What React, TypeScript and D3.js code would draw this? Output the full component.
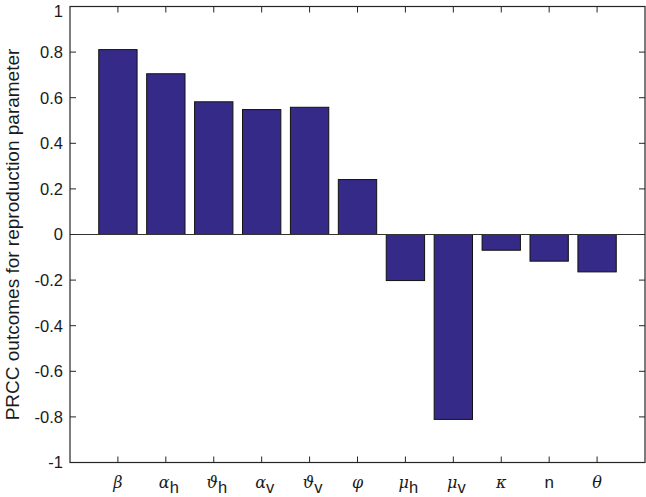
import React from "react";
import * as d3 from "d3";

const symbols = ["β", "α", "ϑ", "α", "ϑ", "φ", "μ", "μ", "κ", "n", "θ"];
const subscripts = ["", "h", "h", "v", "v", "", "h", "v", "", "", ""];
const values = [0.811, 0.705, 0.582, 0.548, 0.558, 0.241, -0.202, -0.811, -0.069, -0.117, -0.164];
const yTicks = [1, 0.8, 0.6, 0.4, 0.2, 0, -0.2, -0.4, -0.6, -0.8, -1];

const W = 646, H = 497;
const left = 70, right = 645, top = 6.5, bottom = 462.5;
const fill = "#352a87";

export default function App() {
  const x = d3.scaleLinear().domain([0, values.length + 1]).range([left, right]);
  const y = d3.scaleLinear().domain([-1, 1]).range([bottom, top]);
  const bw = (x(1) - x(0)) * 0.8;
  const tick = 6;
  const font = "'Liberation Sans', Arial, sans-serif";
  return (
    <svg width={W} height={H} style={{ position: "absolute", left: 0, top: 0, background: "#fff" }}>
      {values.map((v, i) => {
        const cx = x(i + 1);
        const y0 = y(0), y1 = y(v);
        return (
          <rect key={i} x={cx - bw / 2} y={Math.min(y0, y1)} width={bw} height={Math.abs(y1 - y0)}
            fill={fill} stroke="#111" strokeWidth={1} />
        );
      })}
      <line x1={left} x2={right} y1={y(0)} y2={y(0)} stroke="#333" strokeWidth={1} />
      <rect x={left} y={top} width={right - left} height={bottom - top} fill="none" stroke="#262626" strokeWidth={1.2} />
      {yTicks.map((t) => (
        <g key={t}>
          <line x1={left} x2={left + tick} y1={y(t)} y2={y(t)} stroke="#262626" />
          <line x1={right} x2={right - tick} y1={y(t)} y2={y(t)} stroke="#262626" />
          <text x={left - 7} y={Math.max(y(t), 11.5)} dy="0.36em" textAnchor="end" fontFamily={font} fontSize={16.5} fill="#1a1a1a">
            {String(t)}
          </text>
        </g>
      ))}
      {symbols.map((s, i) => {
        const cx = x(i + 1);
        const isN = s === "n";
        return (
          <g key={i}>
            <line x1={cx} x2={cx} y1={bottom} y2={bottom - tick} stroke="#262626" />
            <line x1={cx} x2={cx} y1={top} y2={top + tick} stroke="#262626" />
            <text x={cx + (subscripts[i] ? 3 : 0)} y={488} textAnchor="middle" fill="#1a1a1a">
              <tspan fontFamily={isN ? font : "'DejaVu Serif', serif"} fontStyle={isN ? "normal" : "italic"} fontSize={isN ? 17 : 16}>{s}</tspan>
              {subscripts[i] ? (
                <tspan fontFamily={font} fontSize={16.5} dy={5}>{subscripts[i]}</tspan>
              ) : null}
            </text>
          </g>
        );
      })}
      <text transform={`translate(19,${(top + bottom) / 2}) rotate(-90)`} textAnchor="middle" fontFamily={font} fontSize={19} fill="#1a1a1a">
        PRCC outcomes for reproduction parameter
      </text>
    </svg>
  );
}
